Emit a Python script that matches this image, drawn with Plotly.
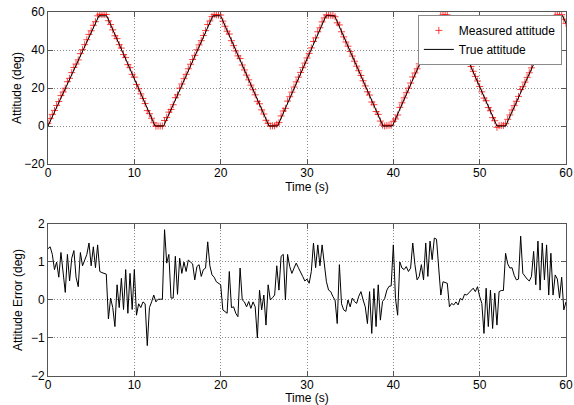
import numpy as np
import plotly.graph_objects as go

# ---------------- data ----------------
sample_period_s = 0.25

# vertices of the true attitude profile (deg)
true_time_s = [0, 5.9, 6.8, 12.4, 13.4, 19.1, 20.0, 25.6, 26.6, 32.2, 33.2, 38.8,
               39.9, 45.5, 46.4, 52.0, 53.0, 58.8, 59.6, 60.0]
true_deg = [0, 58, 58, 0, 0, 58, 58, 0, 0, 58, 58, 0,
            0, 58, 58, 0, 0, 58, 58, 54]

# measured attitude samples (deg), one every sample_period_s
measured_deg = [
    1.4, 3.9, 6.1, 8.2, 10.8, 12.9, 16.0, 17.9, 19.9, 23.3, 25.1, 28.1,
    30.8, 32.6, 34.8, 38.1, 40.2, 42.8, 45.4, 48.2, 50.1, 53.0, 54.9, 58.0,
    58.8, 58.7, 58.7, 58.7, 55.4, 53.4, 50.6, 47.5, 46.0, 42.8, 41.0, 37.6,
    36.0, 32.3, 30.7, 27.2, 25.7, 21.9, 19.6, 16.9, 14.5, 11.8, 8.1, 6.5,
    4.1, 1.7, -0.1, 0.0, 0.0, 0.0, 2.9, 4.5, 7.3, 8.7, 11.2, 14.9,
    16.4, 19.9, 22.1, 24.9, 27.2, 30.1, 32.5, 35.0, 37.2, 40.1, 42.7, 44.9,
    47.6, 50.2, 53.4, 55.3, 57.6, 58.6, 58.5, 58.4, 58.4, 55.2, 52.5, 49.9,
    48.4, 44.9, 42.3, 39.5, 36.9, 35.5, 32.1, 29.5, 26.8, 24.3, 21.5, 19.1,
    16.4, 13.0, 11.7, 8.5, 6.3, 3.0, 1.4, 0.0, 0.1, 0.1, 0.9, 1.8,
    5.3, 7.9, 9.3, 13.1, 15.4, 17.8, 20.5, 23.2, 25.7, 28.2, 30.7, 33.1,
    35.8, 38.2, 41.1, 44.5, 46.4, 49.6, 51.7, 54.8, 56.9, 58.5, 58.3, 58.2,
    58.1, 57.5, 54.3, 53.2, 49.6, 46.9, 44.2, 42.0, 39.2, 36.8, 34.1, 31.5,
    29.1, 26.6, 23.8, 21.1, 18.0, 16.3, 12.6, 11.2, 7.6, 6.1, 2.6, 0.5,
    0.0, 0.3, 0.4, 0.4, 2.5, 3.7, 5.8, 9.8, 12.2, 14.8, 17.5, 19.9,
    22.6, 25.8, 27.9, 30.1, 32.7, 35.6, 37.8, 41.4, 43.1, 46.6, 48.7, 51.9,
    54.4, 56.3, 58.1, 58.5, 58.5, 58.4, 56.8, 54.3, 51.7, 49.2, 46.5, 44.1,
    41.4, 39.0, 36.4, 33.9, 31.3, 28.8, 26.1, 23.7, 20.8, 18.0, 14.7, 13.3,
    9.7, 8.0, 4.4, 2.8, -0.7, 0.2, 0.3, 0.3, 1.2, 3.5, 5.8, 8.4,
    10.7, 13.0, 15.6, 19.2, 20.7, 23.1, 25.6, 28.0, 30.6, 33.8, 35.4, 39.1,
    40.3, 44.0, 45.5, 49.0, 50.1, 53.7, 55.1, 58.2, 58.6, 58.1, 58.6, 56.2,
    54.0,
]

# attitude error (deg), one every sample_period_s
error_deg = [
    1.35, 1.4, 1.2, 0.8, 1.0, 0.6, 1.25, 0.7, 0.2, 1.2, 0.5, 1.1,
    1.3, 0.6, 0.35, 1.25, 0.9, 1.05, 1.2, 1.5, 0.9, 1.4, 0.85, 1.45,
    0.75, 0.72, 0.7, 0.68, -0.5, 0.05, -0.2, -0.7, 0.4, -0.2, 0.57, -0.25,
    0.8, -0.35, 0.7, -0.25, 0.8, -0.4, -0.1, -0.2, -0.05, -0.1, -1.2, -0.2,
    -0.05, 0.13, -0.05, 0.02, 0.02, 0.02, 1.85, 0.97, 1.2, 0.05, 0.05, 1.15,
    0.15, 1.1, 0.7, 1.0, 0.75, 1.05, 1.0, 0.95, 0.53, 0.88, 0.93, 0.62,
    0.8, 0.84, 1.53, 0.9, 0.66, 0.6, 0.48, 0.44, 0.4, -0.26, -0.3, -0.35,
    0.75, -0.2, -0.18, -0.35, -0.44, 0.84, 0.0, -0.05, -0.18, -0.04, -0.22, -0.05,
    -0.18, -1.0, 0.26, -0.26, 0.13, -0.66, 0.4, 0.0, 0.06, 0.13, 0.9, 0.26,
    1.15, 1.2, 0.0, 1.2, 0.88, 0.7, 0.84, 0.97, 0.85, 0.75, 0.62, 0.5,
    0.55, 0.44, 0.75, 1.5, 0.85, 1.45, 0.9, 1.45, 0.95, 0.48, 0.26, 0.22,
    0.09, 0.0, -0.62, 0.93, -0.1, -0.26, -0.3, 0.0, -0.18, 0.05, -0.04, -0.09,
    0.1, 0.22, 0.0, -0.18, -0.62, 0.22, -0.88, 0.3, -0.7, 0.4, -0.53, -0.04,
    0.04, 0.26, 0.36, 0.37, 1.45, 0.04, -0.4, 1.0, 0.84, 0.8, 0.88, 0.75,
    0.84, 1.5, 0.93, 0.53, 0.62, 0.93, 0.53, 1.5, 0.62, 1.55, 1.06, 1.63,
    1.6, 0.93, 0.13, 0.48, 0.46, 0.44, -0.18, -0.09, -0.13, -0.05, -0.13, 0.04,
    0.0, 0.15, 0.13, 0.2, 0.26, 0.31, 0.22, 0.35, 0.09, -0.09, -0.88, 0.31,
    -0.7, 0.26, -0.75, 0.18, -0.66, 0.22, 0.25, 0.25, 1.23, 0.95, 0.84, 0.85,
    0.65, 0.53, 0.55, 1.68, 0.7, 0.62, 0.55, 0.5, 0.62, 1.28, 0.4, 1.55,
    0.26, 1.5, 0.53, 1.45, 0.13, 1.23, 0.13, 0.66, 0.55, 0.05, 0.6, -0.26,
    -0.05,
]

time_s = np.round(np.arange(len(error_deg)) * sample_period_s, 2)

x_ticks = [0, 10, 20, 30, 40, 50, 60]
top_y_ticks = [-20, 0, 20, 40, 60]
bottom_y_ticks = [-2, -1, 0, 1, 2]

# ---------------- figure ----------------
FONT = "Arial, Liberation Sans, sans-serif"

fig = go.Figure()
fig.add_trace(go.Scatter(
    x=time_s, y=measured_deg, mode="markers", name="Measured attitude",
    marker=dict(symbol="cross-thin", size=5, color="rgba(255,0,0,0.75)",
                line=dict(color="rgba(255,0,0,0.75)", width=1)),
    xaxis="x", yaxis="y"))
fig.add_trace(go.Scatter(
    x=true_time_s, y=true_deg, mode="lines", name="True attitude",
    line=dict(color="black", width=1), xaxis="x", yaxis="y"))
fig.add_trace(go.Scatter(
    x=time_s, y=error_deg, mode="lines", showlegend=False,
    line=dict(color="black", width=1), xaxis="x2", yaxis="y2"))

axis_common = dict(
    showline=True, linecolor="#555555", linewidth=1, mirror="ticks",
    ticks="inside", ticklen=5, tickcolor="#555555",
    showgrid=True, gridcolor="#8a8a8a", griddash="1px,2px", gridwidth=1,
    zeroline=False, automargin=False,
    tickfont=dict(family=FONT, size=12, color="black"),
)

fig.update_layout(
    width=574, height=405,
    margin=dict(l=48, r=8, t=12, b=29),
    paper_bgcolor="white", plot_bgcolor="white",
    font=dict(family=FONT, size=12, color="black"),
    xaxis=dict(domain=[0, 1], anchor="y", range=[0, 60], tickvals=x_ticks,
               ticklabelstandoff=-2,
               title=dict(text="Time (s)", standoff=3,
                          font=dict(family=FONT, size=12)),
               **axis_common),
    yaxis=dict(domain=[0.5824, 1], anchor="x", range=[-20, 60],
               tickvals=top_y_ticks,
               title=dict(text="Attitude (deg)", standoff=0,
                          font=dict(family=FONT, size=12)),
               **axis_common),
    xaxis2=dict(domain=[0, 1], anchor="y2", range=[0, 60], tickvals=x_ticks,
                ticklabelstandoff=-2,
                title=dict(text="Time (s)", standoff=3,
                           font=dict(family=FONT, size=12)),
                **axis_common),
    yaxis2=dict(domain=[0, 0.4176], anchor="x2", range=[-2, 2],
                tickvals=bottom_y_ticks,
                title=dict(text="Attitude Error (deg)", standoff=5,
                           font=dict(family=FONT, size=12)),
                **axis_common),
    legend=dict(x=0.992, y=0.992, xanchor="right", yanchor="top",
                bgcolor="white", bordercolor="#8a8a8a", borderwidth=1,
                font=dict(family=FONT, size=12, color="black"),
                tracegroupgap=0, itemwidth=30),
    showlegend=True,
)

fig.write_html(
    "out.html",
    config={"displayModeBar": False},
    post_script="document.body.style.margin='0';document.body.style.padding='0';",
)
